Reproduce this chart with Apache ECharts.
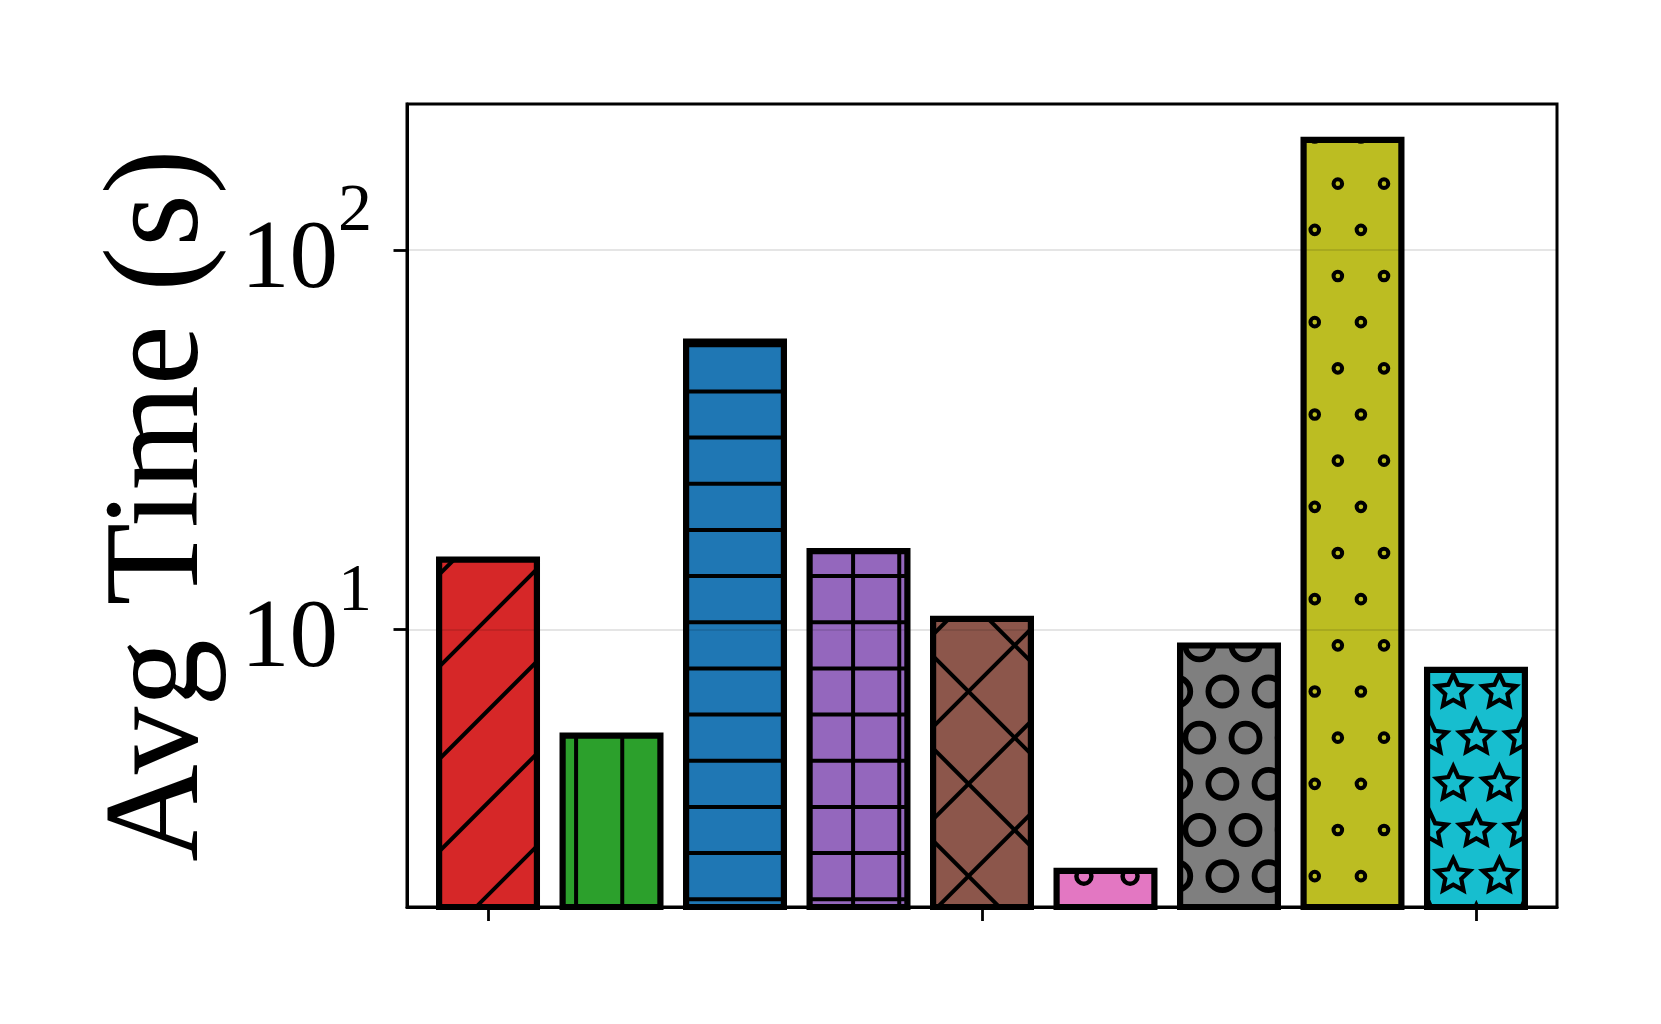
<!DOCTYPE html>
<html>
<head>
<meta charset="utf-8">
<script src="https://cdn.jsdelivr.net/npm/echarts@6/dist/echarts.min.js"></script>
<style>
html, body { margin: 0; padding: 0; background: #fff; }
#chart { width: 1661px; height: 1024px; }
</style>
</head>
<body>
<div id="chart"></div>
<script>
// data
const positions = [0, 1, 2, 3, 4, 5, 6, 7, 8];
const avgTime = [15.59, 5.36, 58.5, 16.41, 10.88, 2.36, 9.26, 198.7, 7.99];
const yTicks = [10, 100];
const xTicks = [0, 4, 8];
const yRange = [1.861, 242.5];
const xRange = [-0.656, 8.656];

// styling
const barColors = ['#d62728', '#2ca02c', '#1f77b4', '#9467bd', '#8c564b', '#e377c2', '#7f7f7f', '#bcbd22', '#17becf'];
const hatches = ['/', '||', '--', '++', 'x', 'o', 'O', '.', '*'];
const serif = 'Liberation Serif';

// hatch tile, anchored to the canvas origin like matplotlib anchors to the figure
const makeHatch = (fill, kind) => {
 const T = 554, u = T / 12, v = 2 * u, ox = -1, oy = -1;
 const c = document.createElement('canvas');
 c.width = T; c.height = T;
 const g = c.getContext('2d');
 g.fillStyle = fill;
 g.fillRect(0, 0, T, T);
 g.strokeStyle = '#000';
 g.lineWidth = 4;
 const line = (x1, y1, x2, y2) => { g.beginPath(); g.moveTo(x1, y1); g.lineTo(x2, y2); g.stroke(); };
 if (kind === '/' || kind === 'x') {
  for (let k = -2; k <= 14; k++) {
   const cc = ox + oy + k * v;
   line(-20, cc + 20, T + 20, cc - T - 20);
  }
 }
 if (kind === 'x') {
  for (let k = -8; k <= 8; k++) {
   const cc = oy - ox + k * v;
   line(-20, cc - 20, T + 20, cc + T + 20);
  }
 }
 if (kind === '||' || kind === '++') {
  for (let i = -1; i <= 12; i++) { const x = ox + (i + 0.5) * u; line(x, -5, x, T + 5); }
 }
 if (kind === '--' || kind === '++') {
  for (let i = -1; i <= 12; i++) { const y = oy + (i + 0.5) * u; line(-5, y, T + 5, y); }
 }
 const shape = {
  'o': { r: 7.5, lw: 4.5 },
  'O': { r: 14, lw: 5.8 },
  '.': { r: 4.3, lw: 4 },
  '*': { r: 17.5, lw: 4.2 }
 }[kind];
 if (shape) {
  g.lineWidth = shape.lw;
  for (let k = -1; k <= 13; k++) {
   const y = oy + k * u;
   const off = ((k % 2) + 2) % 2 ? 0.5 : 0;
   for (let j = -1; j <= 13; j++) {
    const x = ox + (j + off) * u;
    g.beginPath();
    if (kind === '*') {
     for (let p = 0; p < 10; p++) {
      const a = -Math.PI / 2 + p * Math.PI / 5;
      const rr = p % 2 ? shape.r * 0.48 : shape.r;
      const px = x + rr * Math.cos(a), py = y + rr * Math.sin(a);
      p ? g.lineTo(px, py) : g.moveTo(px, py);
     }
     g.closePath();
    } else {
     g.arc(x, y, shape.r, 0, Math.PI * 2);
    }
    g.stroke();
   }
  }
 }
 return { image: c, repeat: 'repeat' };
};

const setOption = () => {
 return {
  animation: false,
  backgroundColor: '#fff',
  grid: {
   left: 407,
   right: 104,
   top: 104,
   bottom: 117,
   show: true,
   borderColor: '#000',
   borderWidth: 3,
   backgroundColor: 'transparent'
  },
  xAxis: {
   type: 'value',
   min: xRange[0],
   max: xRange[1],
   z: 5,
   axisLine: { show: true, onZero: false, lineStyle: { color: '#000', width: 3 } },
   axisTick: { show: true, customValues: xTicks, length: 14, lineStyle: { color: '#000', width: 2.8 } },
   axisLabel: { show: false },
   splitLine: { show: false }
  },
  yAxis: {
   type: 'log',
   logBase: 10,
   min: yRange[0],
   max: yRange[1],
   z: 5,
   name: 'Avg Time (s)',
   nameLocation: 'middle',
   nameRotate: 90,
   nameGap: 178,
   nameTextStyle: { fontFamily: serif, fontSize: 135, color: '#000' },
   axisLine: { show: true, onZero: false, lineStyle: { color: '#000', width: 3 } },
   axisTick: { show: true, customValues: yTicks, length: 13.5, lineStyle: { color: '#000', width: 2.8 } },
   minorTick: { show: false },
   axisLabel: {
    customValues: yTicks,
    margin: 35,
    formatter: val => {
     const e = Math.round(Math.log10(val));
     return '{s|' + e + '}\n{b|10}{sp|' + e + '}';
    },
    rich: {
     s: { fontFamily: serif, fontSize: 68, lineHeight: 22, color: '#000' },
     b: { fontFamily: serif, fontSize: 97, lineHeight: 75, color: '#000' },
     sp: { fontFamily: serif, fontSize: 68, lineHeight: 75, color: 'rgba(0,0,0,0)' }
    }
   },
   splitLine: { show: true, lineStyle: { color: 'rgba(0,0,0,0.1)', width: 2 } }
  },
  series: [
   {
    type: 'bar',
    barWidth: 104,
    z: 2,
    data: positions.map((x, i) => ({
     value: [x, avgTime[i]],
     itemStyle: {
      color: makeHatch(barColors[i], hatches[i]),
      borderColor: '#000',
      borderWidth: 6.2
     }
    }))
   }
  ]
 };
};

const chartDom = document.getElementById('chart');
const myChart = echarts.init(chartDom, null, { renderer: 'canvas', devicePixelRatio: 1 });
myChart.setOption(setOption(), true);
</script>
</body>
</html>
